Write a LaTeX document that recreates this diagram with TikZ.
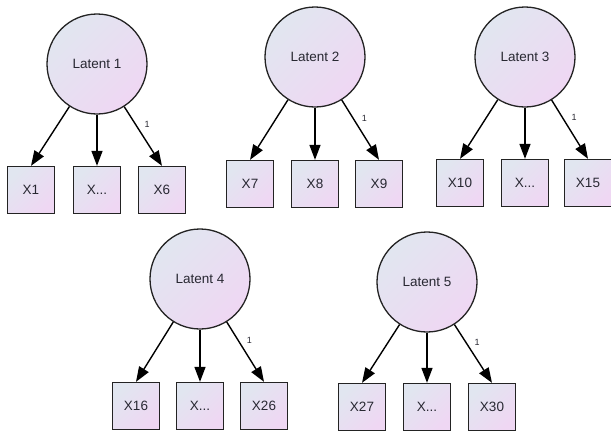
\documentclass[tikz,border=0pt]{standalone}
\usepackage{fontspec}
\setmainfont{Liberation Sans}
\usetikzlibrary{arrows.meta}
\definecolor{fillA}{RGB}{225,230,240}
\definecolor{fillB}{RGB}{239,215,243}
\definecolor{edge}{RGB}{35,35,35}
\definecolor{txt}{RGB}{40,40,50}
\begin{document}
\begin{tikzpicture}[x=1pt,y=-1pt,
  lat/.style={circle, draw=edge, line width=1.3pt, minimum size=100pt, inner sep=0pt,
    top color=fillA, bottom color=fillB, shading angle=45,
    font=\fontsize{13.5}{15}\selectfont, text=txt},
  obs/.style={rectangle, draw=edge, line width=1.3pt, minimum size=47pt, inner sep=0pt,
    top color=fillA, bottom color=fillB, shading angle=45,
    font=\fontsize{13.5}{15}\selectfont, text=txt},
  load/.style={draw=black, line width=1.4pt, -{Triangle[length=15pt,width=11pt]}},
  one/.style={font=\fontsize{9}{10}\selectfont, text=txt}]
\useasboundingbox (0,0) rectangle (611,432);
% group 1
\node[lat] (L1) at (97,64) {Latent 1};
\node[obs] (X1) at (31,190) {X1};
\node[obs] (X1b) at (97,190) {X...};
\node[obs] (X6) at (162,190) {X6};
\draw[load] (L1) -- (X1.north);
\draw[load] (L1) -- (X1b.north);
\draw[load] (L1) -- (X6.north) node[one, pos=0.3, right=5pt] {1};
% group 2
\node[lat] (L2) at (315,57) {Latent 2};
\node[obs] (X7) at (250,184) {X7};
\node[obs] (X8) at (315,184) {X8};
\node[obs] (X9) at (379,184) {X9};
\draw[load] (L2) -- (X7.north);
\draw[load] (L2) -- (X8.north);
\draw[load] (L2) -- (X9.north) node[one, pos=0.3, right=5pt] {1};
% group 3
\node[lat] (L3) at (525,57) {Latent 3};
\node[obs] (X10) at (460,183) {X10};
\node[obs] (X10b) at (525,183) {X...};
\node[obs] (X15) at (588,183) {X15};
\draw[load] (L3) -- (X10.north);
\draw[load] (L3) -- (X10b.north);
\draw[load] (L3) -- (X15.north) node[one, pos=0.3, right=5pt] {1};
% group 4
\node[lat] (L4) at (200,279) {Latent 4};
\node[obs] (X16) at (136,406) {X16};
\node[obs] (X16b) at (200,406) {X...};
\node[obs] (X26) at (264,406) {X26};
\draw[load] (L4) -- (X16.north);
\draw[load] (L4) -- (X16b.north);
\draw[load] (L4) -- (X26.north) node[one, pos=0.3, right=5pt] {1};
% group 5
\node[lat] (L5) at (427,282) {Latent 5};
\node[obs] (X27) at (362,407) {X27};
\node[obs] (X27b) at (427,407) {X...};
\node[obs] (X30) at (492,407) {X30};
\draw[load] (L5) -- (X27.north);
\draw[load] (L5) -- (X27b.north);
\draw[load] (L5) -- (X30.north) node[one, pos=0.3, right=5pt] {1};
\end{tikzpicture}
\end{document}
